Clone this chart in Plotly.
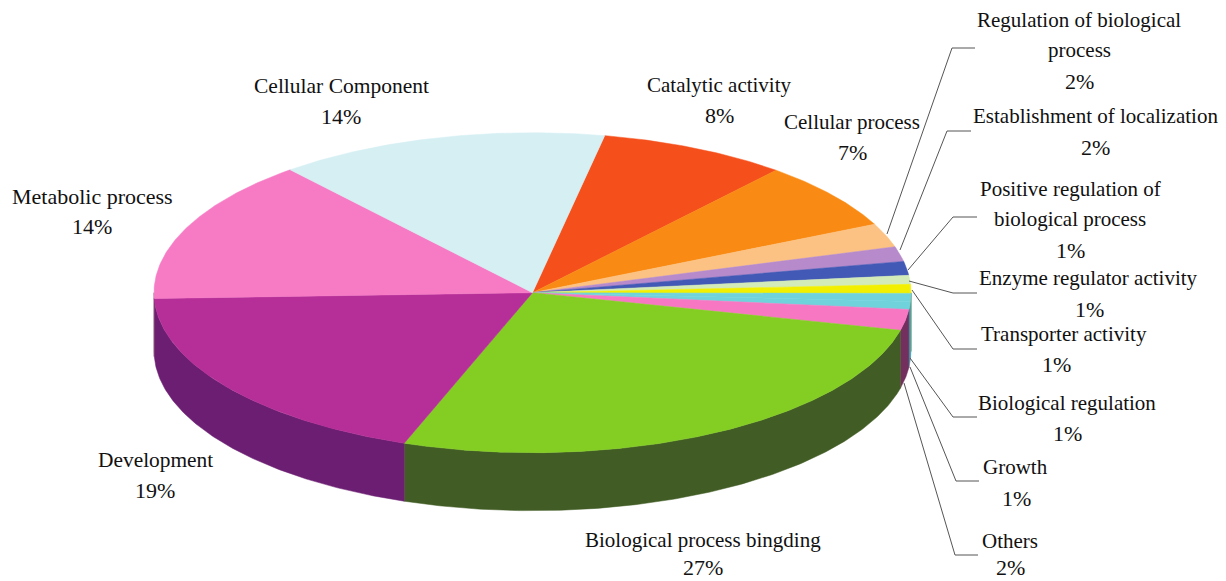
import math
import plotly.graph_objects as go

# ---- data ----
categories = ["Catalytic activity", "Cellular process", "Regulation of biological process",
              "Establishment of localization", "Positive regulation of biological process",
              "Enzyme regulator activity", "Transporter activity", "Biological regulation",
              "Growth", "Others", "Biological process bingding", "Development",
              "Metabolic process", "Cellular Component"]
values = [8.06, 6.83, 2.4, 1.5, 1.4, 0.9, 0.9, 0.8, 0.8, 2.1, 26.7, 18.9, 14.5, 14.1]
percent_labels = ["8%", "7%", "2%", "2%", "1%", "1%", "1%", "1%", "1%", "2%", "27%", "19%", "14%", "14%"]

# ---- styles ----
top_colors = ["#F5501C", "#F98B14", "#FCC283", "#B78ACB", "#4259B5", "#D2EBB8", "#F2F000",
              "#70D3DC", "#70D3DC", "#F877C3", "#84CE24", "#B62F98", "#F77AC5", "#D5EFF3"]
wall_colors = ["#7A2A10", "#7C460A", "#7E6142", "#5C4566", "#212D5A", "#69765C", "#797800",
               "#45A0B0", "#45A0B0", "#73305E", "#415C24", "#6C1F72", "#7B3D62", "#6B787A"]
FONT_FAMILY = "Liberation Serif"
TEXT_COLOR = "#111111"
NAME_SIZE = 21
PCT_SIZE = 22
SIZE_OVERRIDE = {"Metabolic process": 22, "Cellular Component": 21.5, "Development": 21.4}
LINE_COLOR = "#555555"

# ---- pie geometry ----
CX, CY, RX, RY, DEPTH = 532.5, 292.7, 378.5, 160, 58
START_DEG = 11


def rim(theta):
    r = math.radians(theta)
    return CX + RX * math.sin(r), CY - RY * math.cos(r)


def arc(a, b, step=0.5):
    n = max(2, int(abs(b - a) / step) + 1)
    return [a + (b - a) * i / (n - 1) for i in range(n)]


total = sum(values)
edges = [START_DEG]
for v in values:
    edges.append(edges[-1] + v / total * 360)

fig = go.Figure()


def poly(xs, ys, color):
    fig.add_trace(go.Scatter(x=xs, y=ys, mode="lines", fill="toself", fillcolor=color,
                             line=dict(color=color, width=0.5), hoverinfo="skip", showlegend=False))


# side walls: only the front half of the cake (90..270 deg) is seen
for i in range(len(values)):
    a, b = max(edges[i], 90), min(edges[i + 1], 270)
    if b <= a:
        continue
    pts = [rim(t) for t in arc(a, b)]
    xs = [p[0] for p in pts] + [p[0] for p in reversed(pts)]
    ys = [p[1] for p in pts] + [p[1] + DEPTH for p in reversed(pts)]
    poly(xs + xs[:1], ys + ys[:1], wall_colors[i])

# top faces
for i in range(len(values)):
    pts = [rim(t) for t in arc(edges[i], edges[i + 1])]
    xs = [CX] + [p[0] for p in pts] + [CX]
    ys = [CY] + [p[1] for p in pts] + [CY]
    poly(xs, ys, top_colors[i])

# ---- leader lines ----
leaders = {
    2: [(887, 234), (952, 48), (975, 48)],
    3: [(900, 250), (947, 131), (971, 131)],
    4: [(908, 270), (953, 217), (977, 217)],
    5: [(909, 281), (953, 293), (977, 293)],
    6: [(912, 290), (953, 349), (977, 349)],
    7: [(910, 358), (953, 417), (977, 417)],
    8: [(910, 367), (956, 481), (979, 481)],
    9: [(904, 383), (955, 555), (978, 555)],
}
for pts in leaders.values():
    fig.add_trace(go.Scatter(x=[p[0] for p in pts], y=[p[1] for p in pts], mode="lines",
                             line=dict(color=LINE_COLOR, width=1), hoverinfo="skip", showlegend=False))

# ---- labels: one entry per text line ----
name_lines = {
    0: [("Catalytic activity", 719, 85)],
    1: [("Cellular process", 852, 122)],
    2: [("Regulation of biological", 1079, 20), ("process", 1079, 50)],
    3: [("Establishment of localization", 1095, 116)],
    4: [("Positive regulation of", 1070, 189), ("biological process", 1070, 219)],
    5: [("Enzyme regulator activity", 1088, 278)],
    6: [("Transporter activity", 1064, 334)],
    7: [("Biological regulation", 1067, 403)],
    8: [("Growth", 1015, 467)],
    9: [("Others", 1010, 541)],
    10: [("Biological process bingding", 703, 540)],
    11: [("Development", 155, 460)],
    12: [("Metabolic process", 92, 196)],
    13: [("Cellular Component", 341, 86)],
}
pct_pos = [(719, 115), (852, 152), (1079, 81), (1095, 147), (1070, 250), (1089, 309), (1056, 364),
           (1067, 433), (1016, 498), (1010, 567), (703, 567), (155, 490), (92, 226), (341, 116)]

annotations = []
for i in range(len(categories)):
    for text, x, y in name_lines[i]:
        annotations.append(dict(x=x, y=y, text=text, showarrow=False,
                                font=dict(family=FONT_FAMILY, color=TEXT_COLOR,
                                          size=SIZE_OVERRIDE.get(text, NAME_SIZE)),
                                xanchor="center", yanchor="middle"))
    x, y = pct_pos[i]
    annotations.append(dict(x=x, y=y, text=percent_labels[i], showarrow=False,
                            font=dict(family=FONT_FAMILY, color=TEXT_COLOR, size=PCT_SIZE),
                            xanchor="center", yanchor="middle"))

fig.update_layout(
    width=1226, height=581,
    margin=dict(l=0, r=0, t=0, b=0),
    paper_bgcolor="white", plot_bgcolor="white",
    xaxis=dict(range=[0, 1226], visible=False, fixedrange=True),
    yaxis=dict(range=[581, 0], visible=False, fixedrange=True),
    annotations=annotations,
    showlegend=False,
)

fig.write_html("out.html", config=dict(displayModeBar=False),
               post_script="document.body.style.margin='0';document.documentElement.style.overflow='hidden';")
